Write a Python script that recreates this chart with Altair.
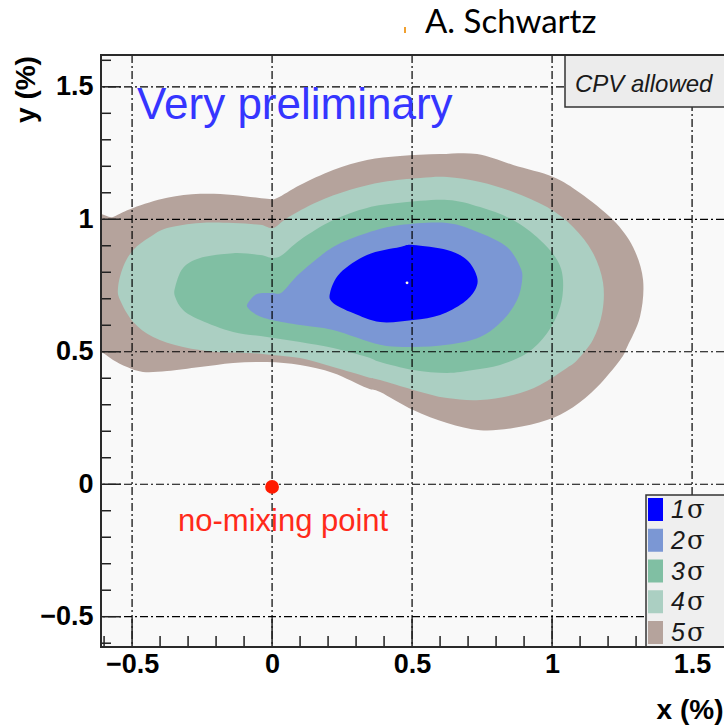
import altair as alt
import pandas as pd

# ---------------- text ----------------
author = "A. Schwartz"
watermark = "Very preliminary"
note_text = "CPV allowed"
point_label = "no-mixing point"
x_title = "x (%)"
y_title = "y (%)"

# ---------------- legend ----------------
sigma_numbers = ["1", "2", "3", "4", "5"]
sigma_symbol = "σ"
sigma_colors = ["#0000ff", "#7b97d4", "#80bfa3", "#abcfc2", "#b5a39c"]

# ---------------- contour boundaries (x %, y %) ----------------
s5_x = [-0.640, -0.568, -0.496, -0.375, -0.257, -0.139, -0.018, 0.018, 0.100, 0.218,
        0.339, 0.457, 0.600, 0.732, 0.861, 1.004, 1.100, 1.218, 1.289, 1.325,
        1.314, 1.268, 1.243, 1.161, 1.075, 0.982, 0.861, 0.743, 0.625, 0.504,
        0.386, 0.339, 0.218, 0.100, -0.018, -0.139, -0.257, -0.375, -0.461, -0.518,
        -0.568, -0.604, -0.640]
s5_y = [0.975, 1.009, 1.043, 1.081, 1.096, 1.092, 1.077, 1.080, 1.129, 1.186,
        1.224, 1.239, 1.246, 1.246, 1.205, 1.160, 1.099, 0.997, 0.895, 0.771,
        0.632, 0.518, 0.469, 0.367, 0.291, 0.242, 0.212, 0.204, 0.231, 0.280,
        0.348, 0.363, 0.420, 0.450, 0.461, 0.458, 0.442, 0.427, 0.424, 0.442,
        0.469, 0.495, 0.510]

s4_x = [-0.550, -0.532, -0.496, -0.436, -0.375, -0.257, -0.139, -0.043, 0.004, 0.054,
        0.161, 0.279, 0.396, 0.529, 0.625, 0.743, 0.861, 0.982, 1.075, 1.146,
        1.182, 1.179, 1.146, 1.090, 1.054, 0.957, 0.861, 0.743, 0.625, 0.504,
        0.386, 0.339, 0.218, 0.100, 0.000, -0.079, -0.196, -0.318, -0.425, -0.496,
        -0.543]
s4_y = [0.744, 0.820, 0.884, 0.933, 0.967, 0.986, 0.986, 0.979, 0.967, 1.005,
        1.065, 1.111, 1.141, 1.156, 1.160, 1.141, 1.103, 1.046, 0.971, 0.873,
        0.760, 0.647, 0.545, 0.469, 0.440, 0.375, 0.337, 0.318, 0.325, 0.356,
        0.393, 0.405, 0.442, 0.476, 0.488, 0.495, 0.499, 0.518, 0.556, 0.612,
        0.695]

s3_x = [-0.346, -0.318, -0.257, -0.139, -0.043, 0.000, 0.036, 0.100, 0.218, 0.339,
        0.457, 0.625, 0.743, 0.861, 0.957, 1.018, 1.039, 1.029, 0.982, 0.911,
        0.814, 0.718, 0.625, 0.504, 0.386, 0.339, 0.218, 0.100, -0.018, -0.139,
        -0.257, -0.318, -0.346]
s3_y = [0.744, 0.816, 0.854, 0.872, 0.865, 0.854, 0.865, 0.922, 0.997, 1.043,
        1.062, 1.073, 1.046, 0.997, 0.922, 0.846, 0.771, 0.669, 0.570, 0.495,
        0.450, 0.431, 0.420, 0.431, 0.461, 0.480, 0.514, 0.537, 0.556, 0.575,
        0.620, 0.658, 0.707]

s2_x = [-0.086, -0.054, 0.000, 0.036, 0.100, 0.218, 0.339, 0.457, 0.625, 0.743,
        0.839, 0.886, 0.893, 0.875, 0.825, 0.743, 0.625, 0.504, 0.386, 0.218,
        0.100, 0.000, -0.054, -0.086]
s2_y = [0.684, 0.718, 0.722, 0.725, 0.797, 0.895, 0.948, 0.978, 0.986, 0.948,
        0.895, 0.820, 0.771, 0.695, 0.620, 0.556, 0.526, 0.518, 0.526, 0.582,
        0.601, 0.620, 0.639, 0.665]

s1_x = [0.207, 0.243, 0.339, 0.457, 0.504, 0.625, 0.696, 0.732, 0.725, 0.682,
        0.600, 0.504, 0.386, 0.289, 0.218]
s1_y = [0.722, 0.797, 0.865, 0.895, 0.903, 0.884, 0.846, 0.782, 0.733, 0.684,
        0.639, 0.620, 0.612, 0.646, 0.684]

best_fit_x = [0.482]
best_fit_y = [0.760]
no_mix_x = [0.0]
no_mix_y = [-0.01]

# ---------------- axis ticks ----------------
major_ticks = [-0.5, 0, 0.5, 1, 1.5]
minor_ticks = [-0.6, -0.4, -0.3, -0.2, -0.1, 0.1, 0.2, 0.3, 0.4, 0.6, 0.7, 0.8, 0.9,
               1.1, 1.2, 1.3, 1.4, 1.6]

# ---------------- layout ----------------
W, H = 623, 592
FONT = "Liberation Sans"
xscale = alt.Scale(domain=[-0.611, 1.614], nice=False, zero=False)
yscale = alt.Scale(domain=[-0.6143, 1.620], nice=False, zero=False)

x_axis = alt.Axis(values=major_ticks, format="~g", grid=False, ticks=False, domain=False,
                  labelFont=FONT, labelFontSize=27, labelFontWeight="bold", labelColor="black",
                  labelPadding=4, labelFlush=False, labelOverlap=False,
                  title=x_title, titleFont=FONT, titleFontSize=28, titleFontWeight="bold",
                  titleColor="black", titleX=W - 1, titleY=71, titleAlign="right",
                  titleBaseline="alphabetic")
y_axis = alt.Axis(values=major_ticks, format="~g", grid=False, ticks=False, domain=False,
                  labelFont=FONT, labelFontSize=27, labelFontWeight="bold", labelColor="black",
                  labelPadding=8, labelFlush=False, labelOverlap=False,
                  title=y_title, titleFont=FONT, titleFontSize=28, titleFontWeight="bold",
                  titleColor="black", titleX=-75, titleY=34, titleAngle=270,
                  titleAlign="center", titleBaseline="middle")


def X(f):
    return alt.X(f"{f}:Q", scale=xscale, axis=x_axis)


def Y(f):
    return alt.Y(f"{f}:Q", scale=yscale, axis=y_axis)


layers = []

# contours, outermost (5 sigma) first
contours = [(s1_x, s1_y), (s2_x, s2_y), (s3_x, s3_y), (s4_x, s4_y), (s5_x, s5_y)]
for idx in [4, 3, 2, 1, 0]:
    cx, cy = contours[idx]
    df = pd.DataFrame({"x": cx, "y": cy, "k": list(range(len(cx)))})
    layers.append(
        alt.Chart(df).mark_line(filled=True, fill=sigma_colors[idx], interpolate="cardinal-closed",
                                clip=True, strokeWidth=0, opacity=1)
        .encode(x=X("x"), y=Y("y"), order="k:Q")
    )

# grid lines (dash-dot)
dash = [8, 3, 2, 3]
layers.append(alt.Chart(pd.DataFrame({"x": major_ticks})).mark_rule(
    color="black", strokeWidth=1.2, strokeDash=dash).encode(x=X("x")))
layers.append(alt.Chart(pd.DataFrame({"y": major_ticks})).mark_rule(
    color="black", strokeWidth=1.2, strokeDash=dash).encode(y=Y("y")))

# inward ticks
tick_col = "#222"
layers.append(alt.Chart(pd.DataFrame({"y": minor_ticks})).mark_rule(
    color=tick_col, strokeWidth=1.5).encode(y=Y("y"), x=alt.value(0), x2=alt.value(10)))
layers.append(alt.Chart(pd.DataFrame({"y": major_ticks})).mark_rule(
    color=tick_col, strokeWidth=1.5).encode(y=Y("y"), x=alt.value(0), x2=alt.value(20)))
layers.append(alt.Chart(pd.DataFrame({"x": minor_ticks})).mark_rule(
    color=tick_col, strokeWidth=1.5).encode(x=X("x"), y=alt.value(H), y2=alt.value(H - 11)))
layers.append(alt.Chart(pd.DataFrame({"x": major_ticks})).mark_rule(
    color=tick_col, strokeWidth=1.5).encode(x=X("x"), y=alt.value(H), y2=alt.value(H - 28)))

# points
layers.append(alt.Chart(pd.DataFrame({"x": no_mix_x, "y": no_mix_y})).mark_circle(
    size=190, color="#ff1a00", opacity=1).encode(x=X("x"), y=Y("y")))
layers.append(alt.Chart(pd.DataFrame({"x": best_fit_x, "y": best_fit_y})).mark_circle(
    size=8, color="#fffbe0", opacity=1).encode(x=X("x"), y=Y("y")))

# annotations
layers.append(alt.Chart(pd.DataFrame({"x": [-0.482], "y": [1.379], "t": [watermark]})).mark_text(
    align="left", baseline="alphabetic", font=FONT, fontSize=44, color="#3535ff")
    .encode(x=X("x"), y=Y("y"), text="t:N"))
layers.append(alt.Chart(pd.DataFrame({"x": [-0.336], "y": [-0.178], "t": [point_label]})).mark_text(
    align="left", baseline="alphabetic", font=FONT, fontSize=31, color="#ff2a1a")
    .encode(x=X("x"), y=Y("y"), text="t:N"))

# CPV box
layers.append(alt.Chart(pd.DataFrame({"t": [note_text]})).mark_rect(
    fill="#ececec", stroke="#333", strokeWidth=1.5)
    .encode(x=alt.value(464), x2=alt.value(W + 20), y=alt.value(0), y2=alt.value(52)))
layers.append(alt.Chart(pd.DataFrame({"t": [note_text]})).mark_text(
    align="left", baseline="alphabetic", font=FONT, fontSize=24, fontStyle="italic", color="#1a1a1a")
    .encode(x=alt.value(474), y=alt.value(37), text="t:N"))

# legend box
layers.append(alt.Chart(pd.DataFrame({"t": ["legend"]})).mark_rect(
    fill="#efefef", stroke="#333", strokeWidth=1.5)
    .encode(x=alt.value(545), x2=alt.value(W + 20), y=alt.value(440), y2=alt.value(H)))
for i, (num, col) in enumerate(zip(sigma_numbers, sigma_colors)):
    top = 443 + 30.75 * i
    layers.append(alt.Chart(pd.DataFrame({"t": [num]})).mark_rect(fill=col, strokeWidth=0)
                  .encode(x=alt.value(547), x2=alt.value(562), y=alt.value(top), y2=alt.value(top + 23)))
    layers.append(alt.Chart(pd.DataFrame({"t": [num]})).mark_text(
        align="left", baseline="alphabetic", font=FONT, fontSize=25, fontStyle="italic", color="#1a1a1a")
        .encode(x=alt.value(570), y=alt.value(top + 20), text="t:N"))
    layers.append(alt.Chart(pd.DataFrame({"t": [sigma_symbol]})).mark_text(
        align="left", baseline="alphabetic", font="DejaVu Serif", fontSize=26, color="#1a1a1a")
        .encode(x=alt.value(586), y=alt.value(top + 20), text="t:N"))

# author and small mark above plot
layers.append(alt.Chart(pd.DataFrame({"t": [author]})).mark_text(
    align="left", baseline="alphabetic", font="Lato", fontSize=33, color="black")
    .encode(x=alt.value(324), y=alt.value(-22), text="t:N"))
layers.append(alt.Chart(pd.DataFrame({"t": ["m"]})).mark_rule(color="#f0a030", strokeWidth=2)
              .encode(x=alt.value(304), y=alt.value(-28), y2=alt.value(-22)))

# frame
layers.append(alt.Chart(pd.DataFrame({"t": ["frame"]})).mark_rect(
    filled=False, stroke="#2a2a2a", strokeWidth=2)
    .encode(x=alt.value(0), x2=alt.value(W + 2), y=alt.value(0), y2=alt.value(H)))

chart = alt.layer(*layers).properties(
    width=W, height=H,
    padding={"left": 101, "top": 55, "right": 0, "bottom": 81},
    autosize=alt.AutoSizeParams(type="none"),
    background="white",
).configure_view(fill="#f9f9f9", stroke="transparent")

chart.save("out.html", embed_options={"renderer": "svg", "actions": False})
